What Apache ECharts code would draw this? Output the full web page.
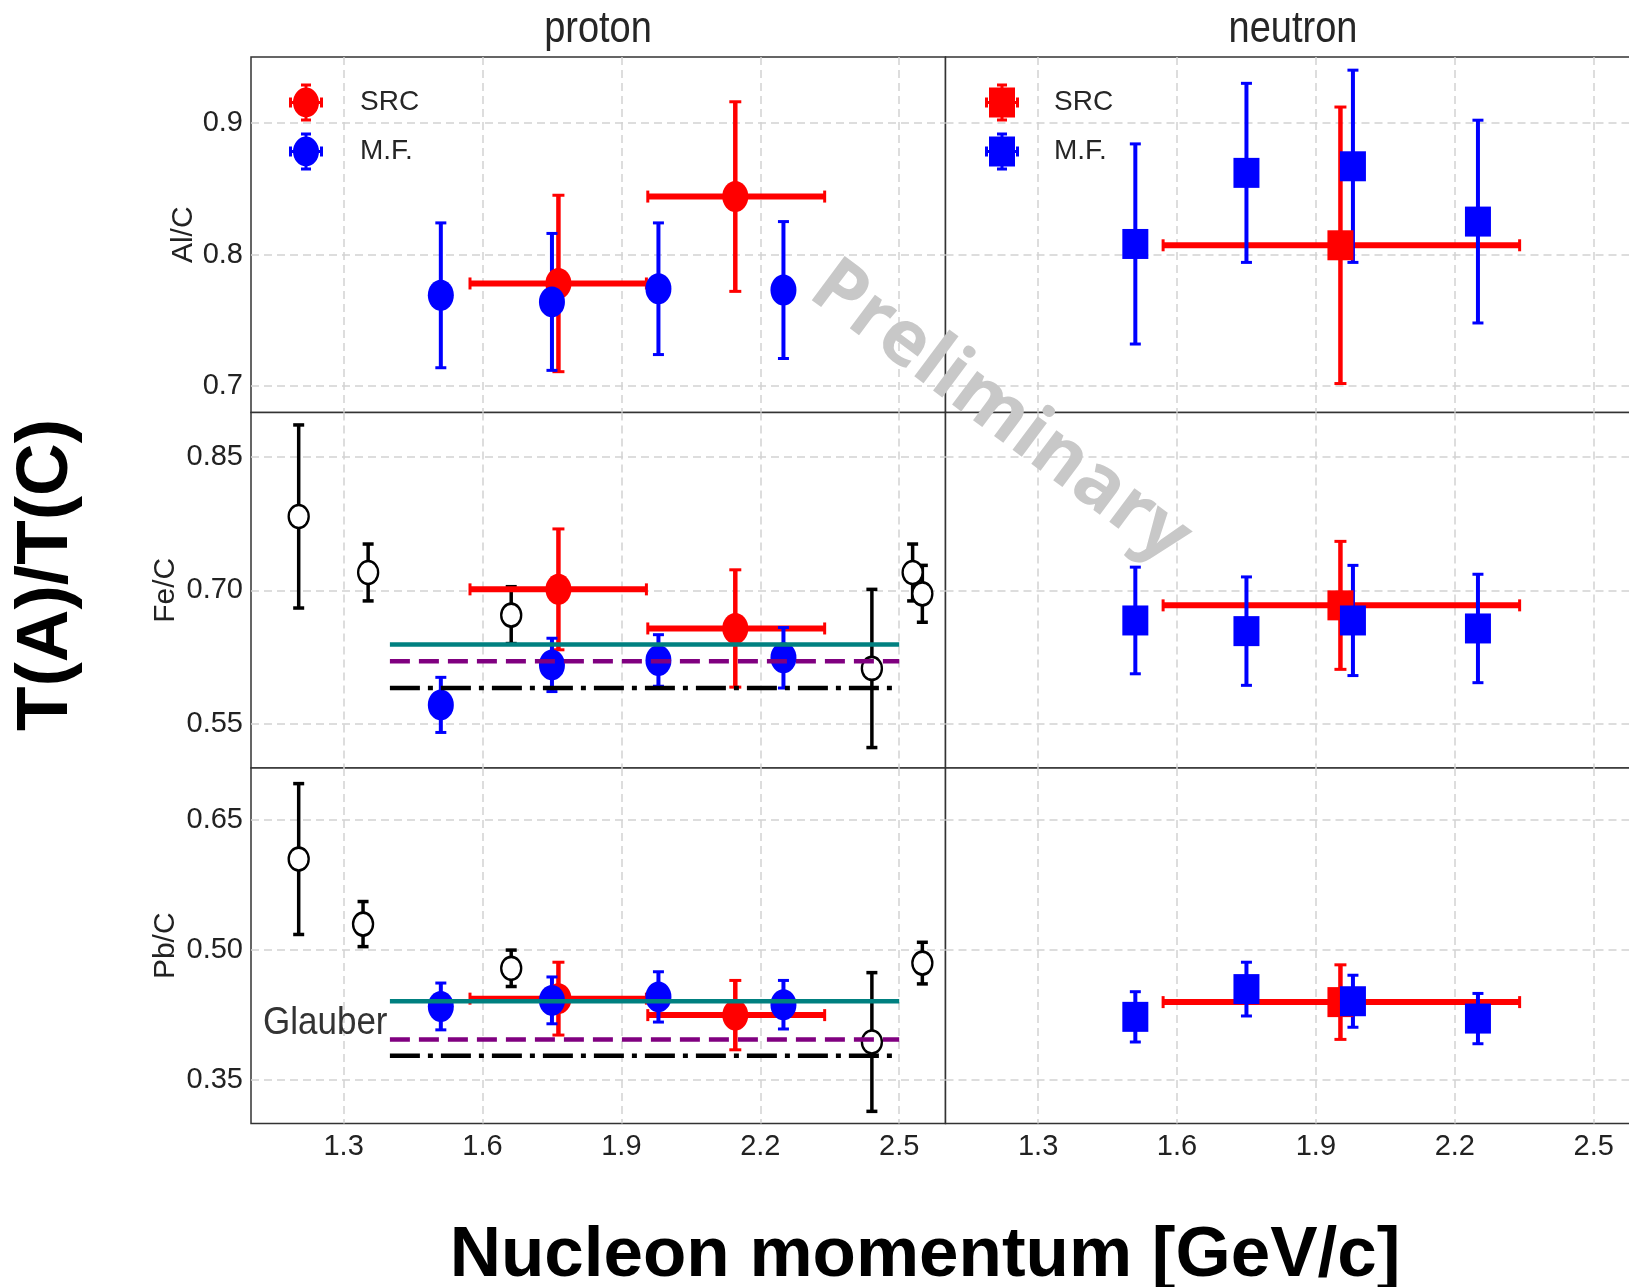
<!DOCTYPE html>
<html>
<head>
<meta charset="utf-8">
<title>T(A)/T(C) vs nucleon momentum</title>
<script src="https://cdn.jsdelivr.net/npm/echarts@6.0.0/dist/echarts.min.js"></script>
<style>
html, body { margin:0; padding:0; background:#fff; }
#chart { width:1629px; height:1287px; }
</style>
</head>
<body>
<div id="chart"></div>
<script>
const xTicks = [1.3, 1.6, 1.9, 2.2, 2.5];
const xTickLabels = ['1.3', '1.6', '1.9', '2.2', '2.5'];
const rowNames = ['Al/C', 'Fe/C', 'Pb/C'];
const yTicksAl = [0.7, 0.8, 0.9];
const yTickLabelsAl = ['0.7', '0.8', '0.9'];
const yTicksFe = [0.55, 0.70, 0.85];
const yTickLabelsFe = ['0.55', '0.70', '0.85'];
const yTicksPb = [0.35, 0.50, 0.65];
const yTickLabelsPb = ['0.35', '0.50', '0.65'];

// momentum bins
const mfMomentum = [1.51, 1.75, 1.98, 2.25];
const srcProtonMomentum = [1.764, 2.146];
const srcProtonLow = [1.573, 1.957];
const srcProtonHigh = [1.954, 2.339];
const srcNeutronMomentum = [1.953];
const srcNeutronLow = [1.57];
const srcNeutronHigh = [2.34];

// Al/C
const alProtonMF = [0.769, 0.764, 0.774, 0.773];
const alProtonMFErr = [0.055, 0.052, 0.050, 0.052];
const alProtonSRC = [0.778, 0.844];
const alProtonSRCErr = [0.067, 0.072];
const alNeutronMF = [0.808, 0.862, 0.867, 0.825];
const alNeutronMFErr = [0.076, 0.068, 0.073, 0.077];
const alNeutronSRC = [0.807];
const alNeutronSRCErr = [0.105];

// Fe/C
const feProtonMF = [0.571, 0.616, 0.621, 0.624];
const feProtonMFErr = [0.031, 0.030, 0.029, 0.034];
const feProtonSRC = [0.701, 0.657];
const feProtonSRCErr = [0.068, 0.066];
const feNeutronMF = [0.666, 0.654, 0.666, 0.657];
const feNeutronMFErr = [0.060, 0.061, 0.062, 0.061];
const feNeutronSRC = [0.683];
const feNeutronSRCErr = [0.072];
const feWorldMomentum = [1.203, 1.353, 1.662, 2.441, 2.529, 2.550];
const feWorld = [0.783, 0.720, 0.672, 0.612, 0.720, 0.696];
const feWorldErr = [0.103, 0.032, 0.032, 0.089, 0.032, 0.032];

// Pb/C
const pbProtonMF = [0.435, 0.442, 0.446, 0.437];
const pbProtonMFErr = [0.027, 0.027, 0.029, 0.028];
const pbProtonSRC = [0.444, 0.425];
const pbProtonSRCErr = [0.042, 0.040];
const pbNeutronMF = [0.423, 0.455, 0.441, 0.421];
const pbNeutronMFErr = [0.029, 0.031, 0.030, 0.029];
const pbNeutronSRC = [0.440];
const pbNeutronSRCErr = [0.043];
const pbWorldMomentum = [1.203, 1.342, 1.662, 2.441, 2.550];
const pbWorld = [0.605, 0.530, 0.479, 0.394, 0.485];
const pbWorldErr = [0.087, 0.026, 0.021, 0.080, 0.024];

// Glauber: solid, dashed, dash-dot
const glauberRange = [1.4, 2.5];
const feGlauber = [0.639, 0.620, 0.590];
const pbGlauber = [0.441, 0.397, 0.378];

const FONT = "'Liberation Sans', Arial, sans-serif";
const colLeft = [251, 945.5];
const colWidth = 694.5;
const rowTop = [57, 412.5, 768];
const rowHeight = 355.5;
const yRanges = [[0.68, 0.95], [0.5, 0.9], [0.30, 0.71]];
const yTicks = [yTicksAl, yTicksFe, yTicksPb];
const yTickLabels = [yTickLabelsAl, yTickLabelsFe, yTickLabelsPb];
const nameGaps = [52, 70, 70];

const ellipse = 'path://M0,15A13,15,0,1,1,26,15A13,15,0,1,1,0,15Z';
const circleIcon = 'path://M4,19A13,15,0,1,1,30,19A13,15,0,1,1,4,19Z' +
    'M15.5,1H18.5V37H15.5Z M12,0H22V3H12Z M12,35H22V38H12Z' +
    'M0,17.5H34V20.5H0Z M0,14H3V24H0Z M31,14H34V24H31Z';
const squareIcon = 'path://M4,4H30V34H4Z' +
    'M15.5,1H18.5V37H15.5Z M12,0H22V3H12Z M12,35H22V38H12Z' +
    'M0,17.5H34V20.5H0Z M0,14H3V24H0Z M31,14H34V24H31Z';

const blueBar = { color:'#0000ff', vWidth:4, hWidth:4, cap:11, capWidth:3 };
const redBar = { color:'#ff0000', vWidth:4.5, hWidth:6, cap:12, capWidth:3 };
const blackBar = { color:'#000000', vWidth:3.5, hWidth:3.5, cap:11, capWidth:3.5 };
const glauberStyles = [
    { color:'#008080', width:4.5, type:'solid' },
    { color:'#800080', width:4.5, type:[20, 9] },
    { color:'#000000', width:4.5, type:[30, 8, 5, 8] }
];

const panels = [
    { proton:true, mf:alProtonMF, mfErr:alProtonMFErr, src:alProtonSRC, srcErr:alProtonSRCErr },
    { proton:false, mf:alNeutronMF, mfErr:alNeutronMFErr, src:alNeutronSRC, srcErr:alNeutronSRCErr },
    { proton:true, mf:feProtonMF, mfErr:feProtonMFErr, src:feProtonSRC, srcErr:feProtonSRCErr,
      worldX:feWorldMomentum, world:feWorld, worldErr:feWorldErr, glauber:feGlauber },
    { proton:false, mf:feNeutronMF, mfErr:feNeutronMFErr, src:feNeutronSRC, srcErr:feNeutronSRCErr },
    { proton:true, mf:pbProtonMF, mfErr:pbProtonMFErr, src:pbProtonSRC, srcErr:pbProtonSRCErr,
      worldX:pbWorldMomentum, world:pbWorld, worldErr:pbWorldErr, glauber:pbGlauber },
    { proton:false, mf:pbNeutronMF, mfErr:pbNeutronMFErr, src:pbNeutronSRC, srcErr:pbNeutronSRCErr }
];

const labelFor = (ticks, labels) => v => {
    let k = 0;
    ticks.forEach((t, j) => { if (Math.abs(t - v) < Math.abs(ticks[k] - v)) k = j; });
    return labels[k];
};

const bars = (xs, ys, errs, lo, hi) => xs.map((x, k) =>
    [x, ys[k], lo ? lo[k] : x, hi ? hi[k] : x, ys[k] - errs[k], ys[k] + errs[k]]);

const errSeries = (i, items, st) => ({
    type:'custom', xAxisIndex:i, yAxisIndex:i, silent:true, clip:false,
    data:items,
    renderItem:(params, api) => {
        const x = api.value(0), y = api.value(1);
        const xl = api.value(2), xh = api.value(3), yl = api.value(4), yh = api.value(5);
        const a = api.coord([x, yl]), b = api.coord([x, yh]);
        const seg = (x1, y1, x2, y2, w) => ({ type:'line', shape:{ x1, y1, x2, y2 }, style:{ stroke:st.color, lineWidth:w } });
        const kids = [
            seg(a[0], a[1], b[0], b[1], st.vWidth),
            seg(a[0] - st.cap / 2, a[1], a[0] + st.cap / 2, a[1], st.capWidth),
            seg(b[0] - st.cap / 2, b[1], b[0] + st.cap / 2, b[1], st.capWidth)
        ];
        if (xh > xl) {
            const c = api.coord([xl, y]), d = api.coord([xh, y]);
            kids.push(seg(c[0], c[1], d[0], d[1], st.hWidth));
            kids.push(seg(c[0], c[1] - st.cap / 2, c[0], c[1] + st.cap / 2, st.capWidth));
            kids.push(seg(d[0], d[1] - st.cap / 2, d[0], d[1] + st.cap / 2, st.capWidth));
        }
        return { type:'group', children:kids };
    }
});

const grids = [], xAxes = [], yAxes = [], series = [];
panels.forEach((pn, i) => {
    const row = Math.floor(i / 2), col = i % 2;
    grids.push({
        left:colLeft[col], top:rowTop[row], width:colWidth, height:rowHeight,
        show:true, borderColor:'#333', borderWidth:1.5, backgroundColor:'#fff',
        containLabel:false, outerBoundsMode:'none'
    });
    xAxes.push({
        gridIndex:i, type:'value', min:1.1, max:2.6,
        axisLine:{ show:false },
        axisTick:{ show:false, customValues:xTicks },
        axisLabel:{ show:row === 2, customValues:xTicks, formatter:labelFor(xTicks, xTickLabels),
            margin:9, fontSize:29, color:'#222', fontFamily:FONT },
        splitLine:{ show:true, lineStyle:{ color:'#d2d2d2', width:1.5, type:[8, 5] } }
    });
    yAxes.push({
        gridIndex:i, type:'value', min:yRanges[row][0], max:yRanges[row][1],
        name:col === 0 ? rowNames[row] : '', nameLocation:'middle', nameGap:nameGaps[row],
        nameTextStyle:{ fontSize:30, color:'#222', fontFamily:FONT },
        axisLine:{ show:false },
        axisTick:{ show:false, customValues:yTicks[row] },
        axisLabel:{ show:col === 0, customValues:yTicks[row], formatter:labelFor(yTicks[row], yTickLabels[row]),
            margin:8, fontSize:29, color:'#222', fontFamily:FONT },
        splitLine:{ show:true, lineStyle:{ color:'#d2d2d2', width:1.5, type:[8, 5] } }
    });

    const sx = pn.proton ? srcProtonMomentum : srcNeutronMomentum;
    const slo = pn.proton ? srcProtonLow : srcNeutronLow;
    const shi = pn.proton ? srcProtonHigh : srcNeutronHigh;
    const sym = pn.proton ? ellipse : 'rect';
    const symSize = pn.proton ? [26, 31] : [26, 30];

    if (pn.glauber) {
        glauberStyles.forEach((st, k) => series.push({
            type:'line', xAxisIndex:i, yAxisIndex:i, silent:true, symbol:'none',
            data:glauberRange.map(x => [x, pn.glauber[k]]),
            lineStyle:st
        }));
    }
    if (pn.world) {
        series.push(errSeries(i, bars(pn.worldX, pn.world, pn.worldErr), blackBar));
        series.push({
            type:'scatter', xAxisIndex:i, yAxisIndex:i, silent:true,
            symbol:ellipse, symbolSize:[20, 23],
            itemStyle:{ color:'#ffffff', borderColor:'#000000', borderWidth:2.5, opacity:1 },
            data:pn.worldX.map((x, k) => [x, pn.world[k]])
        });
    }
    series.push(errSeries(i, bars(sx, pn.src, pn.srcErr, slo, shi), redBar));
    series.push({
        type:'scatter', name:'SRC', xAxisIndex:i, yAxisIndex:i, silent:true,
        symbol:sym, symbolSize:symSize, itemStyle:{ color:'#ff0000', opacity:1 },
        data:sx.map((x, k) => [x, pn.src[k]])
    });
    series.push(errSeries(i, bars(mfMomentum, pn.mf, pn.mfErr), blueBar));
    series.push({
        type:'scatter', name:'M.F.', xAxisIndex:i, yAxisIndex:i, silent:true,
        symbol:sym, symbolSize:symSize, itemStyle:{ color:'#0000ff', opacity:1 },
        data:mfMomentum.map((x, k) => [x, pn.mf[k]])
    });
});

const legendBase = {
    orient:'vertical', top:83.5, padding:0, itemGap:11, itemHeight:38,
    symbolKeepAspect:true, selectedMode:false,
    textStyle:{ fontSize:28, color:'#262626', fontFamily:FONT }
};

const option = {
    backgroundColor:'#fff',
    animation:false,
    textStyle:{ fontFamily:FONT },
    grid:grids,
    xAxis:xAxes,
    yAxis:yAxes,
    legend:[
        Object.assign({}, legendBase, { left:289, itemWidth:98,
            data:[{ name:'SRC', icon:circleIcon }, { name:'M.F.', icon:circleIcon }] }),
        Object.assign({}, legendBase, { left:985, itemWidth:94,
            data:[{ name:'SRC', icon:squareIcon }, { name:'M.F.', icon:squareIcon }] })
    ],
    graphic:[
        { type:'text', x:598, y:30, scaleY:1.15, style:{ text:'proton', fontSize:38, fontFamily:FONT, fill:'#262626', align:'center', verticalAlign:'middle' } },
        { type:'text', x:1293, y:30, scaleY:1.15, style:{ text:'neutron', fontSize:38, fontFamily:FONT, fill:'#262626', align:'center', verticalAlign:'middle' } },
        { type:'text', x:263, y:1023, z:50, scaleY:1.12, style:{ text:'Glauber', fontSize:35, fontFamily:FONT, fill:'#333', align:'left', verticalAlign:'middle' } },
        { type:'text', x:925, y:1256, style:{ text:'Nucleon momentum [GeV/c]', fontSize:71, fontWeight:'bold', fontFamily:FONT, fill:'#000', align:'center', verticalAlign:'middle' } },
        { type:'text', x:47, y:575, rotation:Math.PI / 2, style:{ text:'T(A)/T(C)', fontSize:73, fontWeight:'bold', fontFamily:FONT, fill:'#000', align:'center', verticalAlign:'middle' } },
        { type:'text', x:1000, y:413, z:100, rotation:-36.7 * Math.PI / 180, style:{ text:'Preliminary', fontSize:77, fontWeight:'bold', fontFamily:"'Open Sans', 'Noto Sans', sans-serif", fill:'#c8c8c8', align:'center', verticalAlign:'middle' } }
    ],
    series:series
};

const chart = echarts.init(document.getElementById('chart'));
chart.setOption(option);
window.addEventListener('resize', () => chart.resize());
</script>
</body>
</html>
